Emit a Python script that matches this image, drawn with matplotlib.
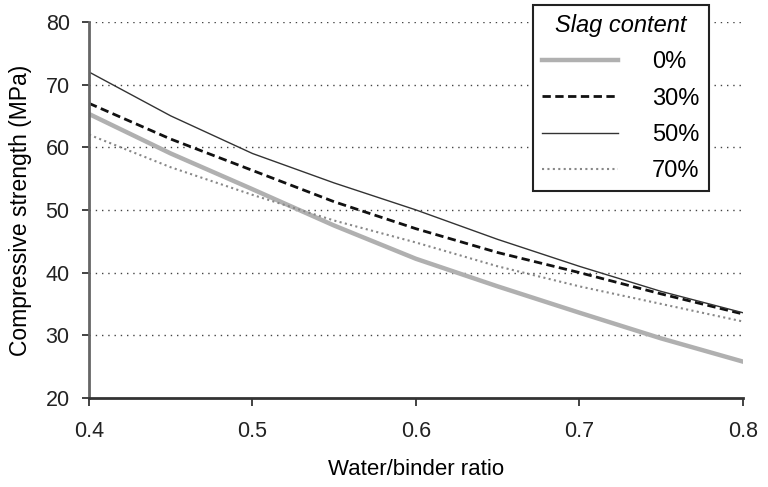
import numpy as np
import matplotlib.pyplot as plt

plt.rcParams['font.family'] = ['Liberation Sans', 'DejaVu Sans']

# water/binder ratio and strength (MPa) per slag content
wb_ratio = [0.40, 0.45, 0.50, 0.55, 0.60, 0.65, 0.70, 0.75, 0.80]
slag_0 = [65.3, 59.0, 53.3, 47.5, 42.2, 37.8, 33.6, 29.5, 25.8]
slag_30 = [67.0, 61.3, 56.3, 51.3, 47.0, 43.2, 40.0, 36.6, 33.4]
slag_50 = [72.0, 65.0, 59.0, 54.3, 50.0, 45.3, 41.0, 37.0, 33.6]
slag_70 = [62.0, 56.8, 52.4, 48.3, 44.8, 41.0, 37.8, 35.0, 32.2]
labels = ['0%', '30%', '50%', '70%']

fig = plt.figure(figsize=(7.68, 4.87), dpi=100)
ax = fig.add_axes([0.116, 0.183, 0.851, 0.772])

ax.plot(wb_ratio, slag_0, color='#b0b0b0', lw=3.2, label=labels[0])
ax.plot(wb_ratio, slag_30, color='#111111', lw=2, dashes=(3, 1.6), label=labels[1])
ax.plot(wb_ratio, slag_50, color='#333333', lw=1, label=labels[2])
ax.plot(wb_ratio, slag_70, color='#888888', lw=1.5, dashes=(1, 1.6), label=labels[3])

ax.set_xlim(0.4, 0.8)
ax.set_ylim(20, 80)
ax.set_xticks([0.4, 0.5, 0.6, 0.7, 0.8])
ax.set_xticklabels(['0.4', '0.5', '0.6', '0.7', '0.8'])
ax.set_yticks(range(20, 81, 10))

for y in range(30, 81, 10):
    ax.axhline(y, color='#444444', lw=1, dashes=(1, 3.5), zorder=0)

for side in ['top', 'right']:
    ax.spines[side].set_visible(False)
ax.spines['left'].set_color('#666666')
ax.spines['left'].set_linewidth(2)
ax.spines['bottom'].set_color('#333333')
ax.spines['bottom'].set_linewidth(2)
ax.tick_params(axis='y', length=5, width=1.2, pad=9, labelsize=15.5, colors='#222222')
ax.tick_params(axis='x', length=6, width=1.2, pad=11, labelsize=15.5, colors='#222222')

ax.set_xlabel('Water/binder ratio', fontsize=16, labelpad=12)
ax.set_ylabel('Compressive strength (MPa)', fontsize=16.5, labelpad=10)

leg = ax.legend(loc='upper left', bbox_to_anchor=(0.694, 0.99), bbox_transform=fig.transFigure,
                borderaxespad=0,
                title='Slag content', title_fontproperties={'style': 'italic', 'size': 17},
                fontsize=17, handlelength=3.2, handletextpad=1.45, labelspacing=0.6,
                borderpad=0.4, frameon=True, fancybox=False, framealpha=1)
leg.get_frame().set_edgecolor('#222222')
leg.get_frame().set_linewidth(1.5)

fig.savefig('out.png', dpi=100)
